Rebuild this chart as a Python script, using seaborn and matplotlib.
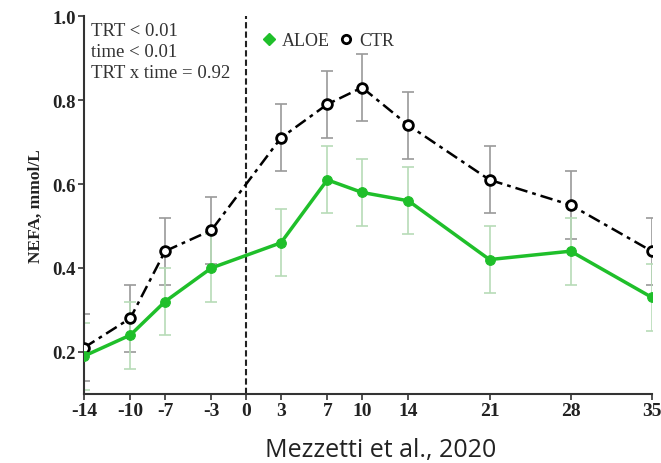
import numpy as np
import pandas as pd
import matplotlib
matplotlib.use("Agg")
import matplotlib.pyplot as plt
from matplotlib.lines import Line2D
import seaborn as sns

days = [-14, -10, -7, -3, 3, 7, 10, 14, 21, 28, 35]
aloe = [0.19, 0.24, 0.32, 0.40, 0.46, 0.61, 0.58, 0.56, 0.42, 0.44, 0.33]
aloe_se = [0.08, 0.08, 0.08, 0.08, 0.08, 0.08, 0.08, 0.08, 0.08, 0.08, 0.08]
ctr = [0.21, 0.28, 0.44, 0.49, 0.71, 0.79, 0.83, 0.74, 0.61, 0.55, 0.44]
ctr_se = [0.08, 0.08, 0.08, 0.08, 0.08, 0.08, 0.08, 0.08, 0.08, 0.08, 0.08]
xticks = [-14, -10, -7, -3, 0, 3, 7, 10, 14, 21, 28, 35]
yticks = [0.2, 0.4, 0.6, 0.8, 1.0]
stats_text = ["TRT < 0.01", "time < 0.01", "TRT x time = 0.92"]

sns.set_style("ticks")
plt.rcParams['font.family'] = ['Liberation Serif', 'DejaVu Serif']

fig = plt.figure(figsize=(6.61, 4.64), dpi=100)
ax = fig.add_axes([0.127, 0.149, 0.859, 0.814])

df_a = pd.DataFrame({"day": days, "nefa": aloe})
df_c = pd.DataFrame({"day": days, "nefa": ctr})

green = "#1fbf2a"
ax.errorbar(days, ctr, yerr=ctr_se, fmt="none", ecolor="#9a9a9a", elinewidth=1.2,
            capsize=4, capthick=1.2, zorder=2)
ax.errorbar(days, aloe, yerr=aloe_se, fmt="none", ecolor="#b8dcb8", elinewidth=1.2,
            capsize=4, capthick=1.2, zorder=2)

sns.lineplot(data=df_c, x="day", y="nefa", ax=ax, color="black", linewidth=1.8,
             linestyle=(0, (5, 2, 1.5, 2)), marker="o", markersize=7,
             markerfacecolor="white", markeredgecolor="black", markeredgewidth=2,
             zorder=3)
sns.lineplot(data=df_a, x="day", y="nefa", ax=ax, color=green, linewidth=2.5,
             marker="o", markersize=7, markerfacecolor=green,
             markeredgecolor=green, zorder=4)

ax.axvline(0, color="#222222", linestyle=(0, (3, 1.5)), linewidth=1.5, zorder=1)

ax.set_xlim(-14, 35)
ax.set_ylim(0.1, 1.0)
ax.set_xticks(xticks)
ax.set_xticklabels([str(t) for t in xticks], fontweight="bold", fontsize=14)
ax.set_yticks(yticks)
ax.set_yticklabels([f"{t:.1f}" for t in yticks], fontweight="bold", fontsize=13.5)
ax.tick_params(axis="both", direction="out", length=4, width=1.2, color="#333333",
               labelcolor="#222222", pad=2)
ax.set_xlabel("")
ax.set_ylabel("NEFA, mmol/L", fontweight="bold", fontsize=12.5, color="#222222", labelpad=6)
for s in ["top", "right"]:
    ax.spines[s].set_visible(False)
for s in ["left", "bottom"]:
    ax.spines[s].set_linewidth(1.5)
    ax.spines[s].set_color("#333333")

ax.text(0.013, 0.985, "\n".join(stats_text), transform=ax.transAxes, ha="left", va="top",
        fontsize=13.5, color="#333333", linespacing=1.3)

handles = [
    Line2D([], [], color=green, marker="D", markersize=6, linestyle="none",
           markerfacecolor=green, markeredgecolor=green),
    Line2D([], [], color="black", marker="o", markersize=6, linestyle="none",
           markerfacecolor="white", markeredgecolor="black", markeredgewidth=2),
]
ax.legend(handles, ["ALOE", "CTR"], loc="upper left", bbox_to_anchor=(0.285, 1.0),
          ncol=2, frameon=False, fontsize=13, handlelength=0.8, handletextpad=0.3,
          columnspacing=0.5, labelcolor="#333333")

fig.text(0.576, 0.03, "Mezzetti et al., 2020", ha="center", va="center",
         fontsize=18, color="#222222", family=["Open Sans", "DejaVu Sans"])

fig.savefig("out.png", dpi=100)
